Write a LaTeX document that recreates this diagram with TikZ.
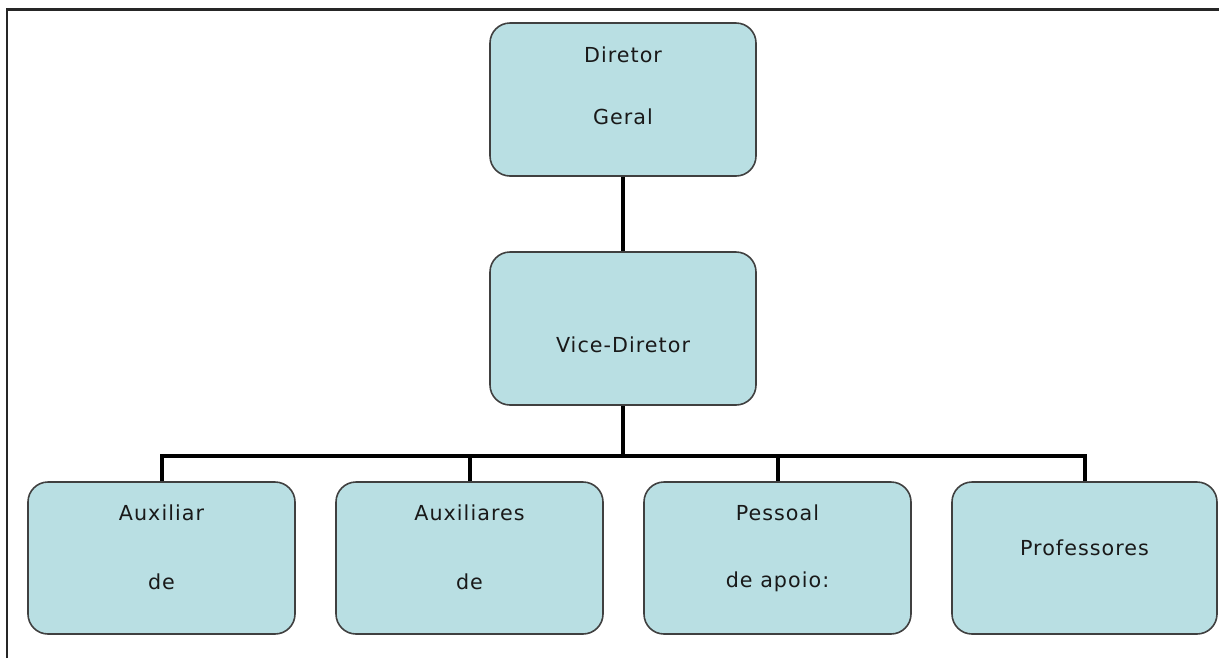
\documentclass[tikz,border=0pt]{standalone}
\usepackage{fontspec}
\setmainfont{DejaVu Sans}
\newfontfamily\lblfont[LetterSpace=5]{DejaVu Sans}
\begin{document}
\begin{tikzpicture}[x=0.75pt,y=-0.75pt,
  box/.style={draw=black!75, line width=1.2pt, fill=boxfill, rounded corners=15pt, inner sep=0pt},
  conn/.style={line width=3pt, black},
  lbl/.style={font=\lblfont\fontsize{15.5}{18}\selectfont, text=black!90, inner sep=0pt}]
\definecolor{boxfill}{RGB}{185,223,227}
\useasboundingbox (0,0) rectangle (1219,658);
\draw[line width=1.6pt, black!85] (7,658) -- (7,9.5) -- (1219,9.5);
% boxes
\node[box, minimum width=266*0.75pt, minimum height=153*0.75pt] (dg) at (623,99.5) {};
\node[box, minimum width=266*0.75pt, minimum height=153*0.75pt] (vd) at (623,328.5) {};
\node[box, minimum width=267*0.75pt, minimum height=152*0.75pt] (b1) at (161.5,558) {};
\node[box, minimum width=267*0.75pt, minimum height=152*0.75pt] (b2) at (469.5,558) {};
\node[box, minimum width=267*0.75pt, minimum height=152*0.75pt] (b3) at (777.5,558) {};
\node[box, minimum width=265*0.75pt, minimum height=152*0.75pt] (b4) at (1084.5,558) {};
% labels
\node[lbl] (t1) at (623,55) {Diretor};
\node[lbl] (t2) at (623,117) {Geral};
\node[lbl] (t3) at (623,345) {Vice-Diretor};
\node[lbl] (t4) at (161.5,513) {Auxiliar};
\node[lbl] (t5) at (161.5,582) {de};
\node[lbl] (t6) at (469.5,513) {Auxiliares};
\node[lbl] (t7) at (469.5,582) {de};
\node[lbl] (t8) at (777.5,513) {Pessoal};
\node[lbl] (t9) at (777.5,582) {de apoio:};
\node[lbl] (t10) at (1084.5,548) {Professores};
% connectors
\coordinate (bus) at (623,456);
\draw[conn] (dg.south) -- (vd.north);
\draw[conn] (vd.south) -- (bus);
\draw[conn] (b1.north) |- (bus);
\draw[conn] (b2.north) |- (bus);
\draw[conn] (b3.north) |- (bus);
\draw[conn] (b4.north) |- (bus);
\end{tikzpicture}
\end{document}
